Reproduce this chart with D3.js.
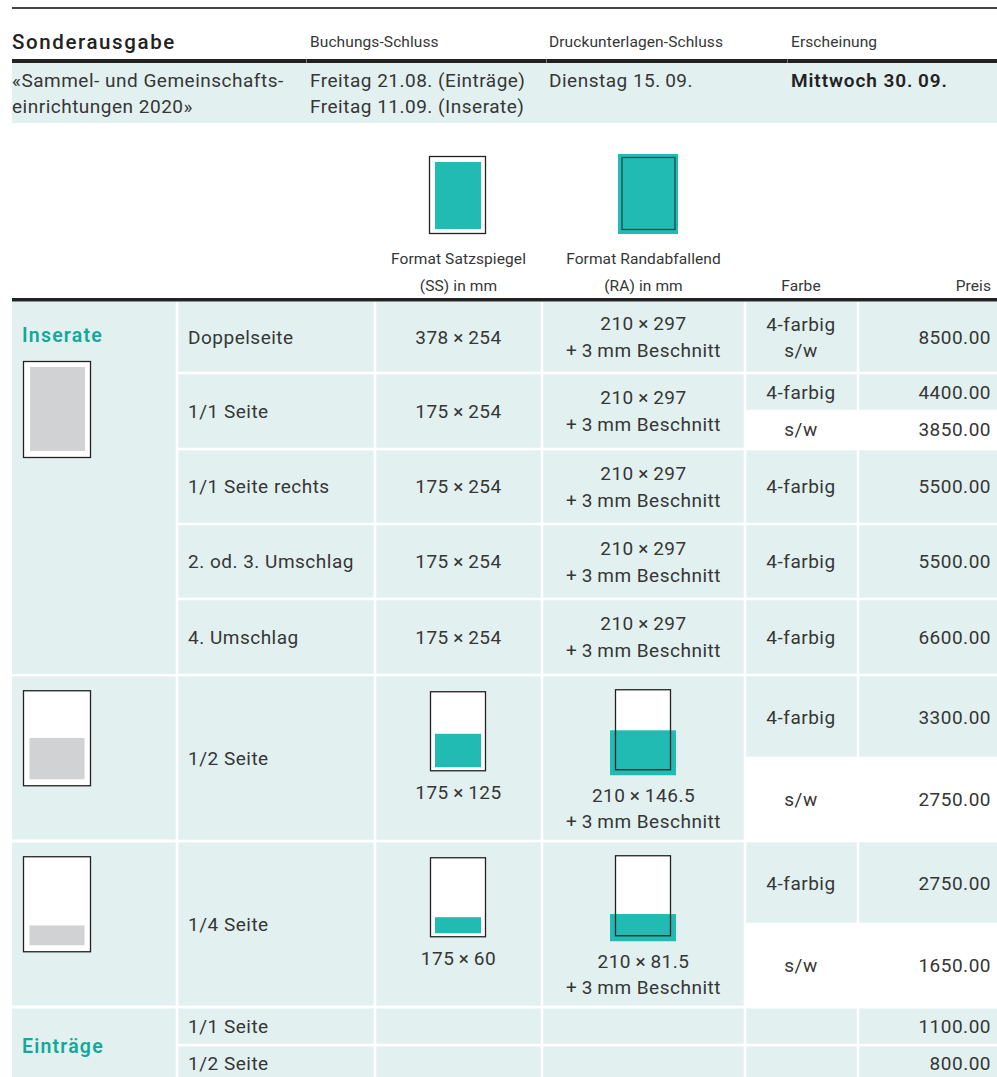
<!DOCTYPE html>
<html>
<head>
<meta charset="utf-8">
<script src="https://cdn.jsdelivr.net/npm/d3@7"></script>
<style>
  body { margin: 0; background: #fff; }
  svg { display: block; font-family: Roboto, "Open Sans", sans-serif; }
</style>
</head>
<body>
<svg width="997" height="1077"></svg>
<script>
// ---- data ----
const issueTitle = ["«Sammel- und Gemeinschafts-", "einrichtungen 2020»"];
const bookingDeadline = ["Freitag 21.08. (Einträge)", "Freitag 11.09. (Inserate)"];
const printDeadline = ["Dienstag 15.\u200909."];
const publication = "Mittwoch 30.\u200909.";

const formats = ["Doppelseite", "1/1 Seite", "1/1 Seite rechts", "2. od. 3. Umschlag", "4. Umschlag", "1/2 Seite", "1/4 Seite"];
const ssSize = ["378\u2009×\u2009254", "175\u2009×\u2009254", "175\u2009×\u2009254", "175\u2009×\u2009254", "175\u2009×\u2009254", "175\u2009×\u2009125", "175\u2009×\u200960"];
const raSize = ["210\u2009×\u2009297", "210\u2009×\u2009297", "210\u2009×\u2009297", "210\u2009×\u2009297", "210\u2009×\u2009297", "210\u2009×\u2009146.5", "210\u2009×\u200981.5"];
const ssHeightMm = [254, 254, 254, 254, 254, 125, 60];
const raHeightMm = [297, 297, 297, 297, 297, 146.5, 81.5];
const farben = [["4-farbig s/w"], ["4-farbig", "s/w"], ["4-farbig"], ["4-farbig"], ["4-farbig"], ["4-farbig", "s/w"], ["4-farbig", "s/w"]];
const preise = [[8500], [4400, 3850], [5500], [5500], [6600], [3300, 2750], [2750, 1650]];

const eintraege = ["1/1 Seite", "1/2 Seite"];
const eintraegePreise = [1100, 800];

// ---- layout ----
const svg = d3.select("svg");
const teal = "#22bbb4", tealText = "#13a89a", band = "#e2f1f0", ink = "#363636", line = "#222", grey = "#d1d2d4";
const fmt = d3.format(".2f");
const bleed = "+\u20093\u2009mm Beschnitt";

const colEdges = [12, 177, 375, 542, 745, 858, 999];
const gap = 2.5;
const cellX = i => (i === 0 ? colEdges[0] : colEdges[i] + gap / 2);
const cellW = i => colEdges[i + 1] - gap / 2 - cellX(i);
const colMid = i => (cellX(i) + cellX(i) + cellW(i)) / 2;

// row edges for the Inserate block, then the 1/2 and 1/4 blocks
const rowEdges = [301, 373, 449, 524, 599, 675, 841, 1007];
const eintraegeEdges = [1007, 1045, 1082];

// mm -> px scales for the little page icons
const ssScale = d3.scaleLinear().domain([0, 254]).range([0, 68]);
const raScale = d3.scaleLinear().domain([0, 297]).range([0, 81]);
const greyScale = d3.scaleLinear().domain([0, 254]).range([0, 84]);

function txt(g, x, y, s, opt = {}) {
  return g.append("text")
    .attr("x", x).attr("y", y).attr("dy", "0.36em")
    .attr("font-size", opt.size || 19)
    .attr("font-weight", opt.weight || 400)
    .attr("letter-spacing", opt.ls != null ? opt.ls : 0.5)
    .attr("fill", opt.fill || ink)
    .attr("text-anchor", opt.anchor || "start")
    .text(s);
}
const small = { size: 15.5, ls: 0.1 };

// ---- issue header ----
svg.append("rect").attr("x", 12).attr("y", 7).attr("width", 985).attr("height", 2).attr("fill", "#444");
txt(svg, 12, 42, "Sonderausgabe", { size: 20.5, weight: 500, fill: "#222", ls: 1.6 });
const headX = [310, 549, 791];
["Buchungs-Schluss", "Druckunterlagen-Schluss", "Erscheinung"].forEach((h, i) =>
  txt(svg, headX[i], 41, h, small));
svg.append("rect").attr("x", 12).attr("y", 63).attr("width", 985).attr("height", 60).attr("fill", band);
svg.append("rect").attr("x", 12).attr("y", 59).attr("width", 985).attr("height", 4).attr("fill", line);
[306, 546, 787].forEach(x => svg.append("rect").attr("x", x).attr("y", 59).attr("width", 1).attr("height", 4).attr("fill", "#777"));
issueTitle.forEach((s, i) => txt(svg, 12, 80 + i * 26, s));
bookingDeadline.forEach((s, i) => txt(svg, 310, 80 + i * 26, s));
printDeadline.forEach((s, i) => txt(svg, 549, 80 + i * 26, s));
txt(svg, 791, 80, publication, { weight: 600, fill: "#222", ls: 0.9 });

// ---- column header with format icons ----
const hdr = svg.append("g");
hdr.append("rect").attr("x", 429.5).attr("y", 156.5).attr("width", 56).attr("height", 77).attr("fill", "#fff").attr("stroke", line).attr("stroke-width", 1.3);
hdr.append("rect").attr("x", 435).attr("y", 162).attr("width", 46).attr("height", ssScale(254) - 1).attr("fill", teal);
hdr.append("rect").attr("x", 618).attr("y", 154).attr("width", 60).attr("height", 80).attr("fill", teal);
hdr.append("rect").attr("x", 622).attr("y", 157.5).attr("width", 53).attr("height", 72).attr("fill", "none").attr("stroke", "#1d4a47").attr("stroke-width", 1.3);
txt(hdr, colMid(2), 258, "Format Satzspiegel", { ...small, anchor: "middle" });
txt(hdr, colMid(2), 285, "(SS) in mm", { ...small, anchor: "middle" });
txt(hdr, colMid(3), 258, "Format Randabfallend", { ...small, anchor: "middle" });
txt(hdr, colMid(3), 285, "(RA) in mm", { ...small, anchor: "middle" });
txt(hdr, 801, 285, "Farbe", { ...small, anchor: "middle" });
txt(hdr, 991, 285, "Preis", { ...small, anchor: "end" });

// ---- table body ----
const body = svg.append("g");

// first column group cells
const groups = [
  { y0: rowEdges[0] + 1, y1: rowEdges[5] - 1 },
  { y0: rowEdges[5] + 1.5, y1: rowEdges[6] - 1.5 },
  { y0: rowEdges[6] + 1.5, y1: rowEdges[7] - 1.5 },
  { y0: eintraegeEdges[0] + 1.5, y1: eintraegeEdges[2] }
];
body.selectAll("rect.group").data(groups).join("rect")
  .attr("class", "group")
  .attr("x", cellX(0)).attr("width", cellW(0))
  .attr("y", d => d.y0).attr("height", d => d.y1 - d.y0)
  .attr("fill", band);

const rows = formats.map((f, i) => ({
  label: f, ss: ssSize[i], ra: raSize[i], ssMm: ssHeightMm[i], raMm: raHeightMm[i],
  farben: farben[i], preise: preise[i],
  y0: rowEdges[i] + (i === 0 ? 1 : 1.25), y1: rowEdges[i + 1] - 1.25,
  small: i >= 5
}));

const row = body.selectAll("g.row").data(rows).join("g").attr("class", "row");

row.each(function (d) {
  const g = d3.select(this);
  const mid = (d.y0 + d.y1) / 2;
  // columns 2-4 full height
  [1, 2, 3].forEach(c => g.append("rect")
    .attr("x", cellX(c)).attr("width", cellW(c))
    .attr("y", d.y0).attr("height", d.y1 - d.y0).attr("fill", band));

  // Farbe + Preis: split when two entries, lower half stays white
  const n = d.preise.length;
  const splitY = n === 2 ? (d.y0 + d.y1) / 2 : d.y1;
  [4, 5].forEach(c => g.append("rect")
    .attr("x", cellX(c)).attr("width", cellW(c))
    .attr("y", d.y0).attr("height", splitY - d.y0 - (n === 2 ? 1.25 : 0)).attr("fill", band));

  txt(g, 188, mid, d.label);

  if (!d.small) {
    txt(g, colMid(2), mid, d.ss, { anchor: "middle" });
    txt(g, colMid(3), mid - 13.5, d.ra, { anchor: "middle" });
    txt(g, colMid(3), mid + 13.5, bleed, { anchor: "middle" });
  } else {
    // SS icon
    const top = d.y0 + 15;
    const bottom = top + 80;
    g.append("rect").attr("x", 430.5).attr("y", top + 0.5).attr("width", 55).attr("height", 79).attr("fill", "#fff").attr("stroke", line).attr("stroke-width", 1.3);
    g.append("rect").attr("x", 435).attr("y", bottom - 4 - ssScale(d.ssMm)).attr("width", 46).attr("height", ssScale(d.ssMm)).attr("fill", teal);
    txt(g, colMid(2), bottom + 21, d.ss, { anchor: "middle" });
    // RA icon
    const rTop = d.y0 + 13;
    const rBottom = rTop + 81;
    g.append("rect").attr("x", 615).attr("y", rTop).attr("width", 56).attr("height", 81).attr("fill", "#fff");
    g.append("rect").attr("x", 610).attr("y", rBottom - raScale(d.raMm)).attr("width", 66).attr("height", raScale(d.raMm) + 5).attr("fill", teal);
    g.append("rect").attr("x", 615.5).attr("y", rTop + 0.5).attr("width", 55).attr("height", 80).attr("fill", "none").attr("stroke", line).attr("stroke-width", 1.3);
    txt(g, colMid(3), rBottom + 25, d.ra, { anchor: "middle" });
    txt(g, colMid(3), rBottom + 51, bleed, { anchor: "middle" });

    // grey page icon in first column
    const gTop = d.y0 + 14;
    g.append("rect").attr("x", 23.5).attr("y", gTop + 0.5).attr("width", 67).attr("height", 95).attr("fill", "#fff").attr("stroke", line).attr("stroke-width", 1.3);
    g.append("rect").attr("x", 29.5).attr("y", gTop + 96 - 7 - greyScale(d.ssMm)).attr("width", 55).attr("height", greyScale(d.ssMm)).attr("fill", grey);
  }

  if (n === 2) {
    const m1 = (d.y0 + splitY) / 2, m2 = (splitY + d.y1) / 2;
    txt(g, 801, m1, d.farben[0], { anchor: "middle" });
    txt(g, 801, m2, d.farben[1], { anchor: "middle" });
    txt(g, 991, m1, fmt(d.preise[0]), { anchor: "end" });
    txt(g, 991, m2, fmt(d.preise[1]), { anchor: "end" });
  } else {
    const parts = d.farben[0].split(" ");
    parts.forEach((p, k) => txt(g, 801, mid + (k - (parts.length - 1) / 2) * 26, p, { anchor: "middle" }));
    txt(g, 991, mid, fmt(d.preise[0]), { anchor: "end" });
  }
});

// Inserate label + big grey page icon
txt(body, 22, 335, "Inserate", { size: 19.5, weight: 600, fill: tealText, ls: 1.2 });
body.append("rect").attr("x", 23.5).attr("y", 361.5).attr("width", 67).attr("height", 96).attr("fill", "#fff").attr("stroke", line).attr("stroke-width", 1.3);
body.append("rect").attr("x", 30).attr("y", 367).attr("width", 55).attr("height", greyScale(254)).attr("fill", grey);

// Einträge rows
const eRows = eintraege.map((e, i) => ({ label: e, preis: eintraegePreise[i], y0: eintraegeEdges[i] + 1.5, y1: eintraegeEdges[i + 1] - 1.25 }));
const er = body.selectAll("g.erow").data(eRows).join("g").attr("class", "erow");
er.each(function (d) {
  const g = d3.select(this);
  const mid = (d.y0 + d.y1) / 2;
  [1, 2, 3, 4, 5].forEach(c => g.append("rect")
    .attr("x", cellX(c)).attr("width", cellW(c))
    .attr("y", d.y0).attr("height", d.y1 - d.y0).attr("fill", band));
  txt(g, 188, mid, d.label);
  txt(g, 991, mid, fmt(d.preis), { anchor: "end" });
});
txt(body, 22, 1046, "Einträge", { size: 19.5, weight: 600, fill: tealText, ls: 1.2 });

// thick rule under the column header
svg.append("rect").attr("x", 12).attr("y", 298).attr("width", 985).attr("height", 3.5).attr("fill", line);
</script>
</body>
</html>
